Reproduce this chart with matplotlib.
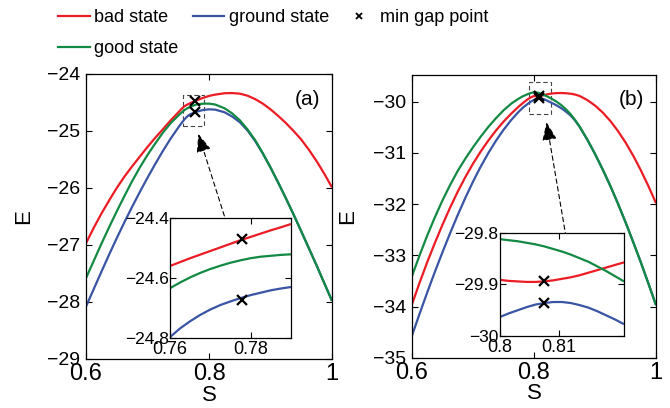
import matplotlib
matplotlib.use('Agg')
import matplotlib.pyplot as plt
from matplotlib.patches import Rectangle
from matplotlib.lines import Line2D

plt.rcParams['font.family'] = ['Liberation Sans', 'DejaVu Sans']

RED = '#ec1c24'
BLUE = '#3a54a4'
GREEN = '#138a43'

# ---- panel (a) ----
s_a = [0.6, 0.6125, 0.625, 0.6375, 0.65, 0.6625, 0.675, 0.6875, 0.7, 0.7125, 0.725,
       0.7375, 0.75, 0.755, 0.76, 0.765, 0.77, 0.78, 0.79, 0.8, 0.81, 0.825, 0.8375,
       0.85, 0.8625, 0.875, 0.8875, 0.9, 0.9125, 0.925, 0.9375, 0.95, 0.9625, 0.975,
       0.9875, 1.0]
bad_a = [-26.97, -26.70, -26.45, -26.22, -26.00, -25.80, -25.62, -25.45, -25.28, -25.12,
         -24.97, -24.815, -24.675, -24.615, -24.565, -24.535, -24.51, -24.462, -24.42,
         -24.385, -24.362, -24.338, -24.334, -24.345, -24.38, -24.44, -24.52, -24.62,
         -24.735, -24.86, -25.00, -25.15, -25.33, -25.53, -25.75, -25.99]
good_a = [-27.58, -27.28, -26.98, -26.69, -26.41, -26.14, -25.88, -25.64, -25.42, -25.22,
          -25.03, -24.865, -24.73, -24.68, -24.634, -24.60, -24.57, -24.535, -24.521,
          -24.52, -24.535, -24.60, -24.69, -24.81, -24.97, -25.16, -25.39, -25.64,
          -25.905, -26.18, -26.465, -26.76, -27.06, -27.36, -27.67, -27.98]
ground_a = [-28.08, -27.775, -27.47, -27.17, -26.88, -26.60, -26.33, -26.07, -25.82, -25.58,
            -25.35, -25.135, -24.94, -24.865, -24.797, -24.74, -24.703, -24.662, -24.632,
            -24.62, -24.625, -24.67, -24.745, -24.845, -24.99, -25.175, -25.395, -25.64,
            -25.905, -26.18, -26.465, -26.76, -27.06, -27.36, -27.67, -27.98]

s_a_zoom = [0.76, 0.7625, 0.765, 0.7675, 0.77, 0.7725, 0.775, 0.7775, 0.78, 0.7825,
            0.785, 0.7875, 0.79]
bad_a_zoom = [-24.56, -24.547, -24.534, -24.522, -24.51, -24.498, -24.486, -24.474,
              -24.463, -24.452, -24.441, -24.431, -24.42]
good_a_zoom = [-24.634, -24.615, -24.598, -24.583, -24.57, -24.559, -24.549, -24.541,
               -24.534, -24.529, -24.526, -24.523, -24.521]
ground_a_zoom = [-24.797, -24.768, -24.744, -24.723, -24.705, -24.69, -24.678, -24.667,
                 -24.657, -24.649, -24.641, -24.635, -24.63]

gap_s_a = [0.7779, 0.7779]
gap_E_a = [-24.47, -24.672]

# ---- panel (b) ----
s_b = [0.6, 0.6125, 0.625, 0.6375, 0.65, 0.6625, 0.675, 0.6875, 0.7, 0.7125, 0.725,
       0.7375, 0.75, 0.7625, 0.775, 0.7825, 0.79, 0.795, 0.8, 0.803, 0.808, 0.815, 0.821,
       0.83, 0.8375, 0.845, 0.8525, 0.86, 0.8675, 0.875, 0.8875, 0.9, 0.9125, 0.925,
       0.9375, 0.95, 0.9625, 0.975, 0.9875, 1.0]
bad_b = [-33.95, -33.53, -33.13, -32.755, -32.40, -32.065, -31.755, -31.47, -31.21, -30.975,
         -30.76, -30.565, -30.39, -30.235, -30.095, -30.02, -29.95, -29.915, -29.891,
         -29.894, -29.894, -29.877, -29.858, -29.84, -29.833, -29.832, -29.836, -29.845,
         -29.862, -29.89, -29.97, -30.075, -30.21, -30.375, -30.57, -30.795, -31.05,
         -31.335, -31.645, -31.98]
good_b = [-33.40, -32.995, -32.61, -32.255, -31.925, -31.625, -31.35, -31.11, -30.89,
          -30.685, -30.495, -30.325, -30.17, -30.04, -29.94, -29.89, -29.852, -29.83,
          -29.815, -29.816, -29.831, -29.863, -29.894, -29.95, -30.005, -30.07, -30.15,
          -30.245, -30.36, -30.49, -30.74, -31.02, -31.32, -31.64, -31.985, -32.35,
          -32.735, -33.13, -33.545, -33.97]
ground_b = [-34.56, -34.135, -33.72, -33.32, -32.935, -32.565, -32.21, -31.875, -31.56,
            -31.27, -31.005, -30.765, -30.55, -30.36, -30.195, -30.11, -30.04, -30.00,
            -29.963, -29.95, -29.934, -29.945, -29.977, -30.03, -30.075, -30.13, -30.195,
            -30.27, -30.37, -30.495, -30.745, -31.02, -31.32, -31.64, -31.985, -32.35,
            -32.735, -33.13, -33.545, -33.97]

s_b_zoom = [0.8, 0.8015, 0.803, 0.8045, 0.806, 0.8075, 0.809, 0.8105, 0.812, 0.8135,
            0.815, 0.8165, 0.818, 0.8195, 0.821]
bad_b_zoom = [-29.891, -29.893, -29.894, -29.895, -29.895, -29.894, -29.892, -29.889,
              -29.886, -29.882, -29.877, -29.872, -29.867, -29.862, -29.857]
good_b_zoom = [-29.812, -29.814, -29.816, -29.819, -29.822, -29.826, -29.831, -29.836,
               -29.842, -29.849, -29.856, -29.865, -29.874, -29.884, -29.894]
ground_b_zoom = [-29.963, -29.956, -29.95, -29.944, -29.939, -29.936, -29.934, -29.934,
                 -29.936, -29.94, -29.945, -29.952, -29.96, -29.968, -29.977]

gap_s_b = [0.8075, 0.8075]
gap_E_b = [-29.894, -29.935]

main_xticks = [0.6, 0.8, 1.0]
main_xticklabels = ['0.6', '0.8', '1']

W, H = 670, 408
fig = plt.figure(figsize=(W / 100, H / 100), dpi=100)


def fr(l, t, r, b):
    return [l / W, 1 - b / H, (r - l) / W, (b - t) / H]


def style(ax, xsize, ysize, xpad, ypad):
    ax.tick_params(direction='in', top=True, right=True, length=4, width=0.8)
    ax.tick_params(axis='x', labelsize=xsize, pad=xpad)
    ax.tick_params(axis='y', labelsize=ysize, pad=ypad)
    for sp in ax.spines.values():
        sp.set_linewidth(0.9)


def draw(ax, s, bad, good, ground, lw=1.6):
    kw = dict(lw=lw, solid_joinstyle='round', solid_capstyle='butt')
    ax.plot(s, bad, color=RED, **kw)
    ax.plot(s, ground, color=BLUE, **kw)
    ax.plot(s, good, color=GREEN, **kw)


panels = [
    dict(pos=fr(86, 74, 332, 359), ipos=fr(170, 218, 291, 338),
         s=s_a, bad=bad_a, good=good_a, ground=ground_a,
         zs=s_a_zoom, zbad=bad_a_zoom, zgood=good_a_zoom, zground=ground_a_zoom,
         gs=gap_s_a, gE=gap_E_a, ylim=(-29, -24), yticks=range(-29, -23),
         ixlim=(0.76, 0.79), iylim=(-24.8, -24.4), ixt=[0.76, 0.78], iyt=[-24.8, -24.6, -24.4],
         ixtl=['0.76', '0.78'], iytl=['\u221224.8', '\u221224.6', '\u221224.4'],
         box=(0.757, -24.92, 0.792, -24.37), tip=(0.7826, -25.05), tail=(0.8288, -26.62),
         label='(a)', lab=(0.902, 0.909), ylx=-0.21),
    dict(pos=fr(412, 75, 656, 358), ipos=fr(500, 233, 624, 336),
         s=s_b, bad=bad_b, good=good_b, ground=ground_b,
         zs=s_b_zoom, zbad=bad_b_zoom, zgood=good_b_zoom, zground=ground_b_zoom,
         gs=gap_s_b, gE=gap_E_b, ylim=(-35, -29.48), yticks=range(-35, -29),
         ixlim=(0.8, 0.821), iylim=(-30, -29.8), ixt=[0.8, 0.81], iyt=[-30, -29.9, -29.8],
         ixtl=['0.8', '0.81'], iytl=['\u221230', '\u221229.9', '\u221229.8'],
         box=(0.7923, -30.24, 0.8274, -29.61), tip=(0.8205, -30.40), tail=(0.8525, -32.64),
         label='(b)', lab=(0.898, 0.912), ylx=-0.22),
]

for p in panels:
    ax = fig.add_axes(p['pos'])
    draw(ax, p['s'], p['bad'], p['good'], p['ground'])
    ax.plot(p['gs'], p['gE'], 'x', color='k', ms=7, mew=1.6)
    ax.set_xlim(0.6, 1.0)
    ax.set_ylim(*p['ylim'])
    ax.set_xticks(main_xticks)
    ax.set_xticklabels(main_xticklabels)
    ax.set_yticks(list(p['yticks']))
    style(ax, 17, 14, 3, 4)
    ax.set_xlabel('S', fontsize=16)
    ax.set_ylabel('E', fontsize=16)
    ax.xaxis.set_label_coords(0.5, -0.09)
    ax.yaxis.set_label_coords(p['ylx'], 0.5)
    ax.text(p['lab'][0], p['lab'][1], p['label'], transform=ax.transAxes,
            ha='center', va='center', fontsize=15)
    x0, y0, x1, y1 = p['box']
    ax.add_patch(Rectangle((x0, y0), x1 - x0, y1 - y0, fill=False, ls=(0, (4, 2.5)),
                           lw=0.8, ec='#444444'))
    ax.annotate('', xy=p['tip'], xytext=p['tail'],
                arrowprops=dict(arrowstyle='-|>,head_length=0.75,head_width=0.3',
                                mutation_scale=15, ls=(0, (4, 3)), lw=0.8, color='k',
                                shrinkA=0, shrinkB=0))

    ins = fig.add_axes(p['ipos'])
    draw(ins, p['zs'], p['zbad'], p['zgood'], p['zground'])
    ins.plot(p['gs'], p['gE'], 'x', color='k', ms=7, mew=1.6)
    ins.set_xlim(*p['ixlim'])
    ins.set_ylim(*p['iylim'])
    ins.set_xticks(p['ixt'])
    ins.set_xticklabels(p['ixtl'])
    ins.set_yticks(p['iyt'])
    ins.set_yticklabels(p['iytl'])
    style(ins, 13, 12.5, 2, 1)

handles = [
    Line2D([], [], color=RED, lw=1.6, label='bad state'),
    Line2D([], [], color=GREEN, lw=1.6, label='good state'),
    Line2D([], [], color=BLUE, lw=1.6, label='ground state'),
    Line2D([], [], color='k', ls='none', marker='x', ms=5, mew=1.3, label='min gap point'),
]
fig.legend(handles=handles, loc='upper left', bbox_to_anchor=(58 / W, 1 - 9 / H),
           ncol=3, frameon=False, fontsize=13, handlelength=1.75, handletextpad=0.25,
           columnspacing=0.8, labelspacing=0.8, borderpad=0, borderaxespad=0)

fig.savefig('out.png', dpi=100)
